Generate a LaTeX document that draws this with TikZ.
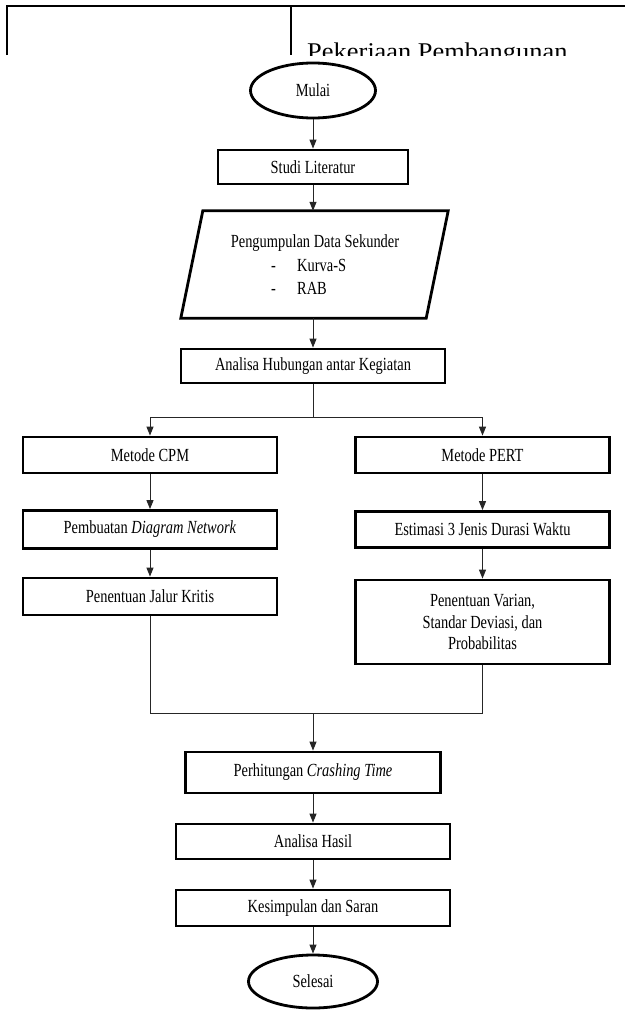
\documentclass[tikz,border=0pt]{standalone}
\usepackage{fontspec}
\setmainfont{Liberation Serif}[FakeStretch=0.78]
\newfontfamily\widefont{Liberation Serif}[FakeStretch=1.1]
\usetikzlibrary{shapes.geometric,arrows.meta,calc}
\newcommand\bodyfont{\fontsize{18.5}{21.5}\selectfont}
\tikzset{
  box/.style={draw, rectangle, line width=2.8pt, inner sep=0pt, font=\bodyfont, align=center, minimum width=254pt},
  term/.style={draw, ellipse, line width=2.8pt, inner sep=0pt, font=\bodyfont},
  conn/.style={draw=black!85, line width=1pt},
  arr/.style={conn, -{Triangle[length=9pt,width=7pt]}},
  tbl/.style={line width=2.5pt},
  txt/.style={inner sep=0pt, font=\bodyfont},
}
\begin{document}
\begin{tikzpicture}[x=1pt,y=-1pt]
\fill[white] (0,0) rectangle (625,1012);
\useasboundingbox (0,0) rectangle (625,1012);
% table fragment at top
\draw[tbl] (7,55) -- (7,6) -- (625,6);
\draw[tbl] (291,6) -- (291,55);
\begin{scope}
\clip (293,0) rectangle (625,55);
\node[anchor=base west, inner sep=0pt, font=\widefont\fontsize{24}{28}\selectfont] (hdr) at (307,59) {Pekerjaan Pembangunan};
\end{scope}
% main column
\node[term, minimum width=125pt, minimum height=55pt] (mulai) at (313,90.5) {Mulai};
\node[box, minimum width=190pt, minimum height=34pt] (studi) at (313,167) {Studi Literatur};
\node[rectangle, inner sep=0pt, minimum width=245pt, minimum height=107pt] (pdata) at (314.5,264.5) {};
\draw[line width=2.8pt, line join=miter] ($(pdata.north west)+(11,0)$) -- ($(pdata.north east)+(11,0)$) -- ($(pdata.south east)+(-11,0)$) -- ($(pdata.south west)+(-11,0)$) -- cycle;
\node[txt] (pd1) at (315,243) {Pengumpulan Data Sekunder};
\node[txt, anchor=west] (pd2) at (271,265) {\makebox[26pt][l]{-}Kurva-S};
\node[txt, anchor=west] (pd3) at (271,288) {\makebox[26pt][l]{-}RAB};
\node[box, minimum width=264pt, minimum height=34pt] (analisa) at (313,366) {Analisa Hubungan antar Kegiatan};
% left column
\node[box, minimum height=36pt] (cpm) at (150,455) {Metode CPM};
\node[box, minimum height=38pt] (diag) at (150,529.5) {Pembuatan \textit{Diagram Network}};
\node[box, minimum height=37pt] (jalur) at (150,596.5) {Penentuan Jalur Kritis};
% right column
\node[box, minimum height=36pt] (pert) at (482.5,455) {Metode PERT};
\node[box, minimum height=36pt] (estim) at (482.5,529.5) {Estimasi 3 Jenis Durasi Waktu};
\node[box, minimum height=84pt] (varian) at (482.5,622) {Penentuan Varian,\\Standar Deviasi, dan\\Probabilitas};
% bottom column
\node[box, minimum width=255pt, minimum height=41pt] (crash) at (313,772.5) {Perhitungan \textit{Crashing Time}};
\node[box, minimum width=274pt, minimum height=35pt] (hasil) at (313,841.5) {Analisa Hasil};
\node[box, minimum width=274pt, minimum height=36pt] (kesim) at (313,908) {Kesimpulan dan Saran};
\node[term, minimum width=129pt, minimum height=53pt] (selesai) at (313,981.5) {Selesai};
% connectors
\coordinate (br) at (313,417);
\coordinate (mg) at (313,713);
\draw[arr] (mulai.south) -- (studi.north);
\draw[arr] (studi.south) -- (pdata.north -| studi.south);
\draw[arr] (pdata.south -| analisa.north) -- (analisa.north);
\draw[conn] (analisa.south) -- (br);
\draw[arr] (br) -| (cpm.north);
\draw[arr] (br) -| (pert.north);
\draw[arr] (cpm.south) -- (diag.north);
\draw[arr] (diag.south) -- (jalur.north);
\draw[arr] (pert.south) -- (estim.north);
\draw[arr] (estim.south) -- (varian.north);
\draw[conn] (jalur.south) |- (mg);
\draw[conn] (varian.south) |- (mg);
\draw[arr] (mg) -- (crash.north);
\draw[arr] (crash.south) -- (hasil.north);
\draw[arr] (hasil.south) -- (kesim.north);
\draw[arr] (kesim.south) -- (selesai.north);
\end{tikzpicture}
\end{document}
